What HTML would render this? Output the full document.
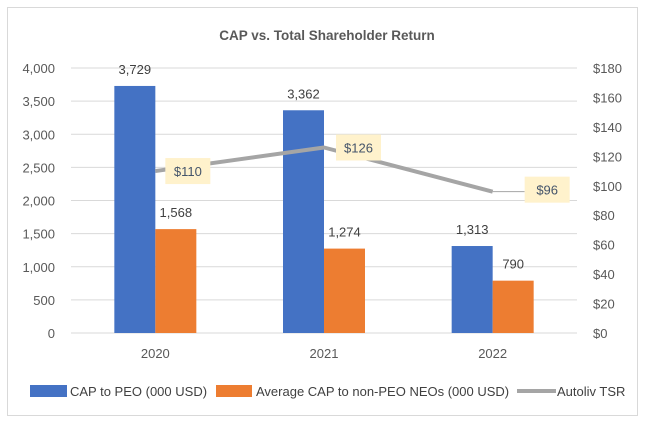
<!DOCTYPE html>
<html><head><meta charset="utf-8"><style>
body{margin:0;background:#fff;}
svg{display:block;font-family:"Liberation Sans",Arial,sans-serif;}
</style></head><body>
<svg id="chart" width="646" height="426" viewBox="0 0 646 426">
<rect x="7.5" y="7.5" width="630" height="408" fill="#fff" stroke="#d9d9d9"/>
<text x="327" y="40" text-anchor="middle" font-size="13.5" font-weight="bold" fill="#595959">CAP vs. Total Shareholder Return</text>
<g id="grid"></g><g id="bars"></g><g id="line"></g><g id="labels"></g>
<g font-size="13" fill="#404040">
<rect x="30" y="385" width="37" height="12" fill="#4472c4"/>
<text x="70" y="396">CAP to PEO (000 USD)</text>
<rect x="216" y="385" width="36" height="12" fill="#ed7d31"/>
<text x="256" y="396">Average CAP to non-PEO NEOs (000 USD)</text>
<line x1="517" y1="391" x2="556" y2="391" stroke="#a5a5a5" stroke-width="4"/>
<text x="557" y="396">Autoliv TSR</text>
</g>
</svg>
<script>
const categories=["2020","2021","2022"];
const peoValues=[3729,3362,1313];
const neoValues=[1568,1274,790];
const tsrValues=[110,126,96];
const leftTicks=[0,500,1000,1500,2000,2500,3000,3500,4000];
const rightTicks=[0,20,40,60,80,100,120,140,160,180];
const NS="http://www.w3.org/2000/svg";
const X0=71,X1=577,Y0=333,Y1=68;
const band=(X1-X0)/categories.length;
const cx=i=>X0+band*(i+0.5);
const yL=v=>Y0-(v/4000)*(Y0-Y1);
const yR=v=>Y0-(v/180)*(Y0-Y1);
function mk(tag,attrs,parent,text){const e=document.createElementNS(NS,tag);for(const k in attrs)e.setAttribute(k,attrs[k]);if(text!=null)e.textContent=text;document.getElementById(parent).appendChild(e);return e;}
leftTicks.forEach(t=>{
 const g=mk('line',{x1:X0,x2:X1,y1:yL(t),y2:yL(t),stroke:'#d9d9d9','stroke-width':1},'grid');
 
 
 const l=mk('text',{x:55,y:yL(t)+5,'text-anchor':'end','font-size':13,fill:'#595959'},'grid',t.toLocaleString('en-US'));
 
 
});
rightTicks.forEach(t=>{
 const l=mk('text',{x:593,y:yR(t)+5,'font-size':13,fill:'#595959'},'grid','$'+t);
 
 
});
const bw=41;
categories.forEach((c,i)=>{
 const x=cx(i);
 const b1=mk('rect',{x:x-bw,y:yL(peoValues[i]),width:bw,height:Y0-yL(peoValues[i]),fill:'#4472c4'},'bars');
 
 
 const b2=mk('rect',{x:x,y:yL(neoValues[i]),width:bw,height:Y0-yL(neoValues[i]),fill:'#ed7d31'},'bars');
 
 
 const t1=mk('text',{x:x-bw/2,y:yL(peoValues[i])-12,'text-anchor':'middle','font-size':13,fill:'#404040'},'labels',peoValues[i].toLocaleString('en-US'));
 
 
 const t2=mk('text',{x:x+bw/2,y:yL(neoValues[i])-12,'text-anchor':'middle','font-size':13,fill:'#404040'},'labels',neoValues[i].toLocaleString('en-US'));
 
 
 const cl=mk('text',{x:x,y:358,'text-anchor':'middle','font-size':13,fill:'#595959'},'labels',c);
 
 
});
const pts=tsrValues.map((v,i)=>cx(i)+','+yR(v)).join(' ');
const pl=mk('polyline',{points:pts,fill:'none',stroke:'#a5a5a5','stroke-width':4,'stroke-linejoin':'round'},'line');


const offs=[[10,-13],[12,-13],[32,-15]];
tsrValues.forEach((v,i)=>{
 const bx=cx(i)+offs[i][0],by=yR(v)+offs[i][1];
 if(i===2){const ld=mk('line',{x1:cx(i),y1:yR(v),x2:bx,y2:yR(v),stroke:'#a5a5a5','stroke-width':1},'labels');
  
  }
 const r=mk('rect',{x:bx,y:by,width:45,height:26,fill:'#fff2cc'},'labels');
 
 
 const t=mk('text',{x:bx+22.5,y:by+18,'text-anchor':'middle','font-size':13,fill:'#44546a'},'labels','$'+v);
 
 
});
</script>
</body></html>
